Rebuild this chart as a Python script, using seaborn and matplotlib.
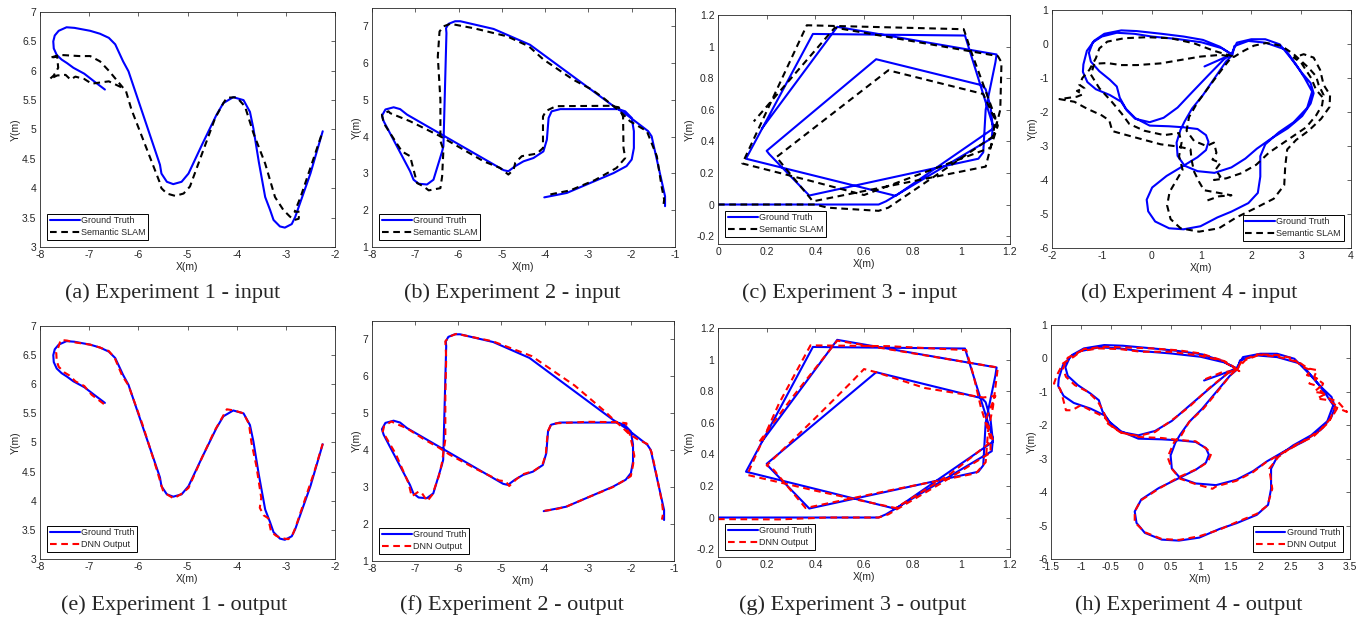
import pandas as pd
import seaborn as sns
import matplotlib
matplotlib.use("Agg")
import matplotlib.pyplot as plt
from matplotlib.ticker import FuncFormatter

# ---- trajectories, (x, y) in metres ----
# experiment 1
gt1 = [(-6.68, 5.68), (-6.9, 5.82), (-7.1, 5.95), (-7.32, 6.05), (-7.45, 6.13), (-7.56, 6.19),
       (-7.66, 6.27), (-7.72, 6.38), (-7.73, 6.5), (-7.7, 6.6), (-7.62, 6.68), (-7.46, 6.74),
       (-7.3, 6.73), (-6.98, 6.68), (-6.78, 6.63), (-6.6, 6.56), (-6.47, 6.45), (-6.31, 6.16),
       (-6.2, 5.99), (-5.56, 4.4), (-5.53, 4.25), (-5.42, 4.11), (-5.29, 4.07), (-5.12, 4.11),
       (-4.98, 4.25), (-4.7, 4.75), (-4.41, 5.25), (-4.27, 5.45), (-4.07, 5.55), (-3.86, 5.5),
       (-3.73, 5.3), (-3.66, 5.02), (-3.55, 4.45), (-3.42, 3.85), (-3.32, 3.63), (-3.25, 3.46),
       (-3.12, 3.35), (-3.02, 3.33), (-2.88, 3.39), (-2.81, 3.51), (-2.5, 4.25), (-2.25, 4.97)]
slam1 = [(-6.35, 5.72), (-6.6, 5.82), (-6.95, 5.78), (-7.1, 5.86), (-7.28, 5.9), (-7.38, 5.85),
         (-7.48, 5.93), (-7.65, 5.92), (-7.8, 5.86), (-7.72, 5.92), (-7.63, 6.05), (-7.65, 6.24),
         (-7.8, 6.22), (-7.6, 6.27), (-7.2, 6.25), (-6.98, 6.25), (-6.78, 6.16), (-6.6, 6.0),
         (-6.45, 5.85), (-6.25, 5.65), (-6.14, 5.34), (-5.57, 4.11), (-5.53, 4.0), (-5.42, 3.91),
         (-5.25, 3.87), (-5.08, 3.91), (-4.95, 4.03), (-4.44, 5.19), (-4.27, 5.45), (-4.2, 5.54),
         (-4.0, 5.55), (-3.83, 5.39), (-3.66, 4.94), (-3.42, 4.42), (-3.22, 3.85), (-3.05, 3.63),
         (-2.92, 3.52), (-2.83, 3.46), (-2.74, 3.48), (-2.72, 3.6), (-2.82, 3.6), (-2.7, 3.85),
         (-2.25, 4.97)]
dnn1 = [(-6.7, 5.66), (-6.95, 5.82), (-7.1, 5.97), (-7.28, 6.05), (-7.4, 6.15), (-7.5, 6.2),
        (-7.62, 6.3), (-7.66, 6.4), (-7.67, 6.55), (-7.62, 6.65), (-7.58, 6.76), (-7.45, 6.75),
        (-7.3, 6.72), (-6.98, 6.68), (-6.78, 6.63), (-6.6, 6.57), (-6.48, 6.45), (-6.33, 6.15),
        (-6.2, 5.98), (-5.92, 5.32), (-5.78, 4.95), (-5.62, 4.52), (-5.55, 4.32), (-5.5, 4.18),
        (-5.4, 4.1), (-5.28, 4.04), (-5.12, 4.12), (-4.98, 4.22), (-4.7, 4.75), (-4.45, 5.2),
        (-4.3, 5.42), (-4.2, 5.57), (-4.05, 5.55), (-3.86, 5.5), (-3.75, 5.32), (-3.7, 5.0),
        (-3.6, 4.6), (-3.5, 4.05), (-3.53, 3.88), (-3.45, 3.75), (-3.36, 3.7), (-3.3, 3.47),
        (-3.2, 3.4), (-3.1, 3.36), (-2.95, 3.34), (-2.87, 3.4), (-2.8, 3.55), (-2.6, 4.05),
        (-2.42, 4.5), (-2.25, 4.98)]

# experiment 2
gt2 = [(-4.02, 2.35), (-3.5, 2.47), (-2.42, 3.01), (-2.12, 3.2), (-2.0, 3.38), (-1.95, 3.69),
       (-1.95, 4.15), (-2.0, 4.51), (-2.15, 4.69), (-2.31, 4.75), (-3.65, 4.75), (-3.85, 4.69),
       (-3.92, 4.51), (-3.96, 3.92), (-4.04, 3.6), (-4.27, 3.42), (-4.5, 3.33), (-4.69, 3.2),
       (-4.85, 3.06), (-4.96, 3.09), (-7.19, 4.6), (-7.35, 4.75), (-7.5, 4.8), (-7.69, 4.74),
       (-7.77, 4.57), (-7.73, 4.42), (-7.12, 3.06), (-7.04, 2.83), (-6.92, 2.72), (-6.73, 2.7),
       (-6.58, 2.83), (-6.38, 3.6), (-6.35, 3.74), (-6.28, 6.82), (-6.29, 6.95), (-6.23, 7.07),
       (-6.08, 7.14), (-5.96, 7.14), (-5.19, 6.93), (-4.35, 6.5), (-2.42, 4.83), (-2.12, 4.6),
       (-1.62, 4.15), (-1.54, 4.01), (-1.23, 2.38), (-1.23, 2.11)]
slam2 = [(-3.88, 2.43), (-3.42, 2.54), (-2.85, 2.82), (-2.35, 3.15), (-2.15, 3.42), (-2.19, 3.7),
         (-2.2, 4.55), (-2.3, 4.8), (-2.5, 4.84), (-3.75, 4.83), (-3.98, 4.7), (-4.05, 4.55),
         (-4.05, 3.69), (-4.19, 3.54), (-4.54, 3.47), (-4.69, 3.29), (-4.73, 3.1), (-4.85, 2.97),
         (-5.04, 3.15), (-5.42, 3.33), (-6.42, 4.01), (-7.12, 4.42), (-7.58, 4.64), (-7.62, 4.69),
         (-7.77, 4.6), (-7.73, 4.37), (-7.31, 3.6), (-7.12, 3.47), (-6.96, 2.74), (-6.81, 2.65),
         (-6.69, 2.54), (-6.42, 2.6), (-6.38, 2.92), (-6.35, 3.65), (-6.42, 3.88), (-6.42, 5.0),
         (-6.48, 6.18), (-6.44, 6.86), (-6.35, 7.0), (-6.19, 7.07), (-5.65, 6.95), (-4.88, 6.73),
         (-4.38, 6.46), (-4.04, 6.1), (-3.35, 5.55), (-2.92, 5.28), (-2.65, 5.05), (-2.42, 4.83),
         (-2.19, 4.6), (-2.04, 4.42), (-1.65, 4.15), (-1.42, 3.47), (-1.31, 2.65), (-1.25, 2.29),
         (-1.27, 2.11)]
dnn2 = [(-4.0, 2.36), (-3.75, 2.4), (-3.5, 2.47), (-3.0, 2.72), (-2.42, 3.0), (-2.1, 3.22),
        (-2.0, 3.3), (-1.95, 3.6), (-1.92, 3.85), (-1.97, 4.15), (-2.03, 4.45), (-2.12, 4.62),
        (-2.1, 4.73), (-2.3, 4.76), (-3.0, 4.77), (-3.72, 4.73), (-3.85, 4.7), (-3.92, 4.52),
        (-3.95, 4.2), (-3.97, 3.9), (-4.05, 3.6), (-4.25, 3.44), (-4.5, 3.35), (-4.65, 3.22),
        (-4.82, 3.03), (-4.9, 3.16), (-5.05, 3.18), (-5.6, 3.5), (-6.2, 3.88), (-6.45, 4.07),
        (-6.8, 4.3), (-7.2, 4.6), (-7.45, 4.72), (-7.55, 4.78), (-7.72, 4.65), (-7.75, 4.5),
        (-7.45, 3.9), (-7.15, 3.1), (-7.08, 2.75), (-6.92, 2.88), (-6.85, 2.85), (-6.72, 2.62),
        (-6.6, 2.8), (-6.45, 3.3), (-6.38, 3.65), (-6.3, 4.3), (-6.3, 5.5), (-6.28, 6.5),
        (-6.3, 6.95), (-6.2, 7.08), (-6.05, 7.15), (-5.9, 7.12), (-5.2, 6.95), (-4.75, 6.75),
        (-4.3, 6.55), (-3.8, 6.15), (-3.3, 5.75), (-2.85, 5.3), (-2.6, 5.05), (-2.42, 4.85),
        (-2.2, 4.62), (-2.05, 4.45), (-1.85, 4.3), (-1.62, 4.17), (-1.52, 3.95), (-1.4, 3.3),
        (-1.28, 2.6), (-1.25, 2.3), (-1.28, 2.12)]

# experiment 3
gt3 = [(0.0, 0.0), (0.66, 0.0), (0.69, 0.02), (1.125, 0.42), (1.13, 0.5), (1.015, 1.07),
       (0.39, 1.08), (0.115, 0.29), (0.73, 0.055), (1.13, 0.48), (1.12, 0.62), (1.1, 0.73),
       (1.085, 0.755), (0.65, 0.92), (0.2, 0.34), (0.21, 0.32), (0.375, 0.057), (1.07, 0.29),
       (1.09, 0.33), (1.1, 0.6), (1.14, 0.9), (1.145, 0.95), (0.49, 1.125), (0.18, 0.48)]
slam3 = [(0.0, 0.0), (0.4, 0.0), (0.45, -0.02), (0.66, -0.04), (0.7, -0.02), (1.13, 0.43),
         (1.14, 0.55), (1.04, 0.97), (1.01, 1.11), (0.365, 1.135), (0.1, 0.26), (0.38, 0.15),
         (0.6, 0.06), (1.12, 0.36), (1.15, 0.5), (1.09, 0.7), (0.7, 0.85), (0.24, 0.3),
         (0.39, 0.02), (1.1, 0.24), (1.13, 0.42), (1.16, 0.6), (1.165, 0.9), (1.15, 0.94),
         (0.48, 1.12), (0.147, 0.526)]
dnn3 = [(0.0, -0.01), (0.25, -0.012), (0.45, 0.0), (0.66, 0.0), (0.7, 0.02), (0.92, 0.22),
        (1.12, 0.41), (1.12, 0.5), (1.08, 0.7), (1.05, 0.9), (1.02, 1.06), (0.7, 1.085),
        (0.38, 1.09), (0.25, 0.72), (0.12, 0.27), (0.4, 0.17), (0.73, 0.06), (0.95, 0.27),
        (1.13, 0.49), (1.1, 0.62), (1.14, 0.77), (1.09, 0.76), (0.85, 0.82), (0.65, 0.92),
        (0.6, 0.94), (0.55, 0.86), (0.4, 0.63), (0.2, 0.33), (0.23, 0.3), (0.36, 0.06),
        (0.7, 0.17), (1.06, 0.28), (1.1, 0.35), (1.11, 0.55), (1.13, 0.7), (1.15, 0.95),
        (0.8, 1.04), (0.49, 1.12), (0.3, 0.75), (0.17, 0.48)]

# experiment 4
gt4 = [(1.06, -0.66), (1.37, -0.46), (1.6, -0.3), (1.37, -0.08), (1.03, 0.12), (0.64, 0.22),
       (0.2, 0.3), (-0.3, 0.38), (-0.61, 0.4), (-0.95, 0.3), (-1.15, 0.1), (-1.3, -0.2),
       (-1.37, -0.6), (-1.38, -0.82), (-1.29, -1.12), (-1.12, -1.33), (-0.84, -1.5), (-0.61, -1.7),
       (-0.5, -1.95), (-0.33, -2.2), (-0.04, -2.3), (0.24, -2.17), (0.52, -1.87), (0.81, -1.42),
       (1.15, -0.9), (1.45, -0.45), (1.6, -0.3), (1.71, 0.04), (2.0, 0.14), (2.28, 0.14),
       (2.57, -0.01), (2.79, -0.41), (3.02, -0.86), (3.19, -1.15), (3.25, -1.45), (3.19, -1.75),
       (3.02, -2.12), (2.73, -2.48), (2.4, -2.78), (2.11, -3.08), (1.88, -3.37), (1.6, -3.63),
       (1.26, -3.79), (0.92, -3.74), (0.66, -3.58), (0.52, -3.29), (0.5, -2.9), (0.58, -2.52),
       (0.66, -2.28), (0.81, -1.9), (1.03, -1.5), (1.26, -1.01), (1.49, -0.52), (1.62, -0.32),
       (1.66, -0.06), (1.94, 0.09), (2.28, 0.04), (2.68, -0.16), (2.9, -0.61), (3.07, -1.0),
       (3.22, -1.4), (3.12, -1.88), (2.85, -2.3), (2.55, -2.6), (2.28, -2.95), (2.18, -3.3),
       (2.18, -3.9), (2.13, -4.38), (1.94, -4.68), (1.6, -4.93), (1.32, -5.1), (0.98, -5.36),
       (0.64, -5.45), (0.35, -5.42), (0.07, -5.22), (-0.07, -4.92), (-0.1, -4.58), (0.01, -4.22),
       (0.3, -3.88), (0.64, -3.58), (0.92, -3.33), (1.09, -3.12), (1.14, -2.88), (1.09, -2.68),
       (0.92, -2.5), (0.64, -2.45), (0.35, -2.42), (-0.04, -2.4), (-0.33, -2.18), (-0.52, -1.9),
       (-0.64, -1.58), (-0.7, -1.25), (-0.84, -1.05), (-1.05, -0.8), (-1.22, -0.52), (-1.26, -0.26),
       (-1.18, 0.05), (-1.0, 0.22), (-0.7, 0.33), (-0.35, 0.3), (0.0, 0.22), (0.5, 0.15),
       (1.0, 0.05), (1.4, -0.12), (1.58, -0.28)]
slam4 = [(1.12, -4.6), (1.35, -4.48), (1.6, -4.45), (1.35, -4.38), (1.05, -4.3), (0.95, -4.05),
         (0.85, -3.75), (0.8, -3.4), (0.78, -3.1), (0.55, -3.02), (0.18, -2.95), (-0.3, -2.76),
         (-0.6, -2.64), (-0.79, -2.56), (-0.85, -2.25), (-1.0, -2.1), (-1.3, -1.9), (-1.55, -1.7),
         (-1.85, -1.62), (-1.5, -1.55), (-1.38, -1.48), (-1.5, -1.38), (-1.35, -1.3), (-1.45, -1.2),
         (-1.39, -1.0), (-1.25, -0.76), (-1.12, -0.42), (-1.05, -0.13), (-0.89, 0.07), (-0.55, 0.17),
         (-0.09, 0.2), (0.38, 0.17), (0.85, 0.02), (1.25, -0.2), (1.62, -0.36), (1.45, -0.67),
         (1.25, -1.06), (1.08, -1.4), (0.91, -1.74), (0.75, -2.15), (0.7, -2.55), (0.85, -2.85),
         (1.1, -3.0), (1.25, -2.9), (1.3, -3.2), (1.22, -3.4), (1.38, -3.5), (1.28, -3.7),
         (1.38, -3.9), (1.25, -4.0), (1.5, -3.95), (1.8, -3.8), (2.1, -3.55), (2.35, -3.2),
         (2.6, -2.95), (2.85, -2.7), (3.1, -2.45), (3.3, -2.1), (3.42, -1.8), (3.45, -1.5),
         (3.35, -1.2), (3.3, -0.95), (3.15, -0.7), (3.0, -0.5), (2.85, -0.3), (2.6, -0.05),
         (2.3, 0.03), (2.05, -0.05), (1.85, -0.2), (1.65, -0.38), (1.38, -0.32), (0.98, -0.37),
         (0.58, -0.47), (0.18, -0.57), (-0.29, -0.62), (-0.62, -0.62), (-0.89, -0.56), (-1.15, -0.58),
         (-1.22, -0.9), (-1.05, -1.3), (-0.8, -1.7), (-0.6, -2.05), (-0.45, -2.35), (-0.15, -2.55),
         (0.25, -2.68), (0.55, -2.62), (0.6, -2.9), (0.55, -3.3), (0.62, -3.7), (0.5, -4.0),
         (0.36, -4.35), (0.31, -4.75), (0.38, -5.15), (0.58, -5.42), (0.95, -5.52), (1.35, -5.42),
         (1.7, -5.1), (2.05, -4.85), (2.45, -4.55), (2.66, -4.15), (2.68, -3.6), (2.72, -3.1),
         (2.9, -2.82), (3.15, -2.55), (3.4, -2.2), (3.57, -1.85), (3.58, -1.5), (3.45, -1.2),
         (3.38, -0.76), (3.25, -0.4), (3.05, -0.3), (2.85, -0.4), (3.0, -0.55), (3.2, -1.0),
         (3.3, -1.35), (3.45, -1.6)]
dnn4 = [(1.08, -0.62), (1.35, -0.42), (1.62, -0.36), (1.55, -0.28), (1.65, -0.38), (1.35, -0.05),
        (1.0, 0.15), (0.64, 0.24), (0.2, 0.3), (-0.3, 0.33), (-0.6, 0.35), (-0.95, 0.28),
        (-1.12, 0.05), (-1.3, -0.15), (-1.4, -0.5), (-1.45, -0.75), (-1.35, -0.9), (-1.3, -1.2),
        (-1.25, -1.55), (-1.15, -1.55), (-1.0, -1.4), (-0.84, -1.55), (-0.61, -1.75), (-0.5, -2.0),
        (-0.33, -2.22), (-0.04, -2.32), (0.24, -2.2), (0.52, -1.85), (0.81, -1.45), (1.15, -0.88),
        (1.45, -0.45), (1.62, -0.3), (1.75, -0.05), (2.0, 0.12), (2.3, 0.1), (2.55, 0.0),
        (2.7, -0.25), (2.85, -0.35), (2.78, -0.5), (2.95, -0.6), (2.82, -0.75), (3.0, -0.85),
        (2.9, -1.0), (3.1, -1.05), (2.95, -1.2), (3.15, -1.25), (3.3, -1.45), (3.2, -1.75),
        (3.0, -2.15), (2.7, -2.5), (2.4, -2.8), (2.1, -3.1), (1.88, -3.4), (1.6, -3.66),
        (1.26, -3.83), (1.2, -3.9), (0.92, -3.76), (0.66, -3.6), (0.52, -3.3), (0.45, -2.95),
        (0.56, -2.5), (0.68, -2.3), (0.81, -1.9), (1.05, -1.5), (1.28, -1.0), (1.5, -0.5),
        (1.62, -0.3), (1.7, -0.05), (1.95, 0.12), (2.3, 0.05), (2.65, -0.12), (2.8, -0.3),
        (2.95, -0.35), (2.9, -0.55), (3.05, -0.75), (3.0, -0.95), (3.15, -1.2), (3.3, -1.3),
        (3.45, -1.6), (3.25, -1.45), (3.15, -1.9), (2.88, -2.35), (2.55, -2.62), (2.3, -2.95),
        (2.15, -3.3), (2.2, -3.9), (2.12, -4.4), (1.94, -4.65), (1.6, -4.9), (1.32, -5.12),
        (0.98, -5.32), (0.64, -5.43), (0.35, -5.4), (0.07, -5.2), (-0.1, -4.9), (-0.1, -4.58),
        (0.0, -4.25), (0.3, -3.9), (0.64, -3.55), (0.95, -3.3), (1.12, -3.1), (1.18, -2.85),
        (1.1, -2.7), (0.92, -2.48), (0.64, -2.44), (0.35, -2.38), (-0.04, -2.35), (-0.35, -2.2),
        (-0.55, -1.95), (-0.62, -1.6), (-0.72, -1.28), (-0.88, -1.0), (-1.1, -0.8), (-1.25, -0.55),
        (-1.3, -0.3), (-1.22, 0.02), (-1.0, 0.22), (-0.7, 0.3), (-0.35, 0.28), (0.0, 0.2),
        (0.5, 0.2), (1.0, 0.08), (1.4, -0.08), (1.58, -0.28)]

captions = ["(a) Experiment 1 - input", "(b) Experiment 2 - input",
            "(c) Experiment 3 - input", "(d) Experiment 4 - input",
            "(e) Experiment 1 - output", "(f) Experiment 2 - output",
            "(g) Experiment 3 - output", "(h) Experiment 4 - output"]

ticks1_x = [-8, -7, -6, -5, -4, -3, -2]
ticks1_y = [3, 3.5, 4, 4.5, 5, 5.5, 6, 6.5, 7]
ticks2_x = [-8, -7, -6, -5, -4, -3, -2, -1]
ticks2_y = [1, 2, 3, 4, 5, 6, 7]
ticks3_x = [0, 0.2, 0.4, 0.6, 0.8, 1, 1.2]
ticks3_y = [-0.2, 0, 0.2, 0.4, 0.6, 0.8, 1, 1.2]
ticks4_x = [-2, -1, 0, 1, 2, 3, 4]
ticks4h_x = [-1.5, -1, -0.5, 0, 0.5, 1, 1.5, 2, 2.5, 3, 3.5]
ticks4_y = [-6, -5, -4, -3, -2, -1, 0, 1]

sns.set_style("white")
plt.rcParams["font.family"] = ["Liberation Sans", "DejaVu Sans"]
plt.rcParams["axes.unicode_minus"] = False

W, H = 1361, 630
fig = plt.figure(figsize=(W / 100, H / 100), dpi=100)

# pixel boxes of each axes: left, right, top, bottom
boxes = [(40, 335, 12, 247), (372, 675, 8, 247), (718, 1010, 15, 244), (1052, 1351, 10, 248),
         (40, 335, 326, 559), (372, 674, 321, 561), (718, 1010, 328, 557), (1051, 1350, 325, 559)]
cap_x = [173, 512, 850, 1189, 174, 512, 853, 1189]
cap_y = [293, 293, 293, 293, 605, 605, 605, 605]

panels = [
    (gt1, slam1, "Semantic SLAM", "k", (-8, -2), (3, 7), ticks1_x, ticks1_y, "lower left"),
    (gt2, slam2, "Semantic SLAM", "k", (-8, -1), (1, 7.5), ticks2_x, ticks2_y, "lower left"),
    (gt3, slam3, "Semantic SLAM", "k", (0, 1.2), (-0.25, 1.2), ticks3_x, ticks3_y, "lower left"),
    (gt4, slam4, "Semantic SLAM", "k", (-2, 4), (-6, 1), ticks4_x, ticks4_y, "lower right"),
    (gt1, dnn1, "DNN Output", "#ff0000", (-8, -2), (3, 7), ticks1_x, ticks1_y, "lower left"),
    (gt2, dnn2, "DNN Output", "#ff0000", (-8, -1), (1, 7.5), ticks2_x, ticks2_y, "lower left"),
    (gt3, dnn3, "DNN Output", "#ff0000", (0, 1.2), (-0.25, 1.2), ticks3_x, ticks3_y, "lower left"),
    (gt4, dnn4, "DNN Output", "#ff0000", (-1.5, 3.5), (-6, 1), ticks4h_x, ticks4_y, "lower right"),
]

fmt = FuncFormatter(lambda v, p: f"{v:g}")

for i, (gt, est, est_label, est_color, xlim, ylim, xt, yt, loc) in enumerate(panels):
    l, r, t, b = boxes[i]
    ax = fig.add_axes([l / W, 1 - b / H, (r - l) / W, (b - t) / H])
    df_gt = pd.DataFrame(gt, columns=["x", "y"])
    df_est = pd.DataFrame(est, columns=["x", "y"])
    sns.lineplot(data=df_gt, x="x", y="y", sort=False, estimator=None, ax=ax,
                 color="#0000ff", lw=1.5, label="Ground Truth")
    sns.lineplot(data=df_est, x="x", y="y", sort=False, estimator=None, ax=ax,
                 color=est_color, lw=1.5, linestyle=(0, (3.2, 2.2)), label=est_label)
    ax.set_xlim(*xlim)
    ax.set_ylim(*ylim)
    ax.set_xticks(xt)
    ax.set_yticks(yt)
    ax.xaxis.set_major_formatter(fmt)
    ax.yaxis.set_major_formatter(fmt)
    ax.set_xlabel("X(m)", fontsize=7.5, color="#262626", labelpad=1)
    ax.set_ylabel("Y(m)", fontsize=7.5, color="#262626", labelpad=1)
    ax.tick_params(direction="in", top=True, right=True, length=3, width=0.5,
                   labelsize=7.5, labelcolor="#262626", colors="#262626", pad=2.5)
    for sp in ax.spines.values():
        sp.set_visible(True)
        sp.set_color("#262626")
        sp.set_linewidth(0.6)
    leg = ax.legend(loc=loc, fontsize=6.5, frameon=True, fancybox=False, framealpha=1,
                    edgecolor="black", borderpad=0.3, handlelength=3.3, labelspacing=0.3,
                    handletextpad=0.15, borderaxespad=0.8)
    leg.get_frame().set_linewidth(0.7)
    fig.text(cap_x[i] / W, 1 - cap_y[i] / H, captions[i], ha="center", va="center",
             fontsize=16, family=["Liberation Serif", "DejaVu Serif"])

fig.savefig("out.png", dpi=100)
